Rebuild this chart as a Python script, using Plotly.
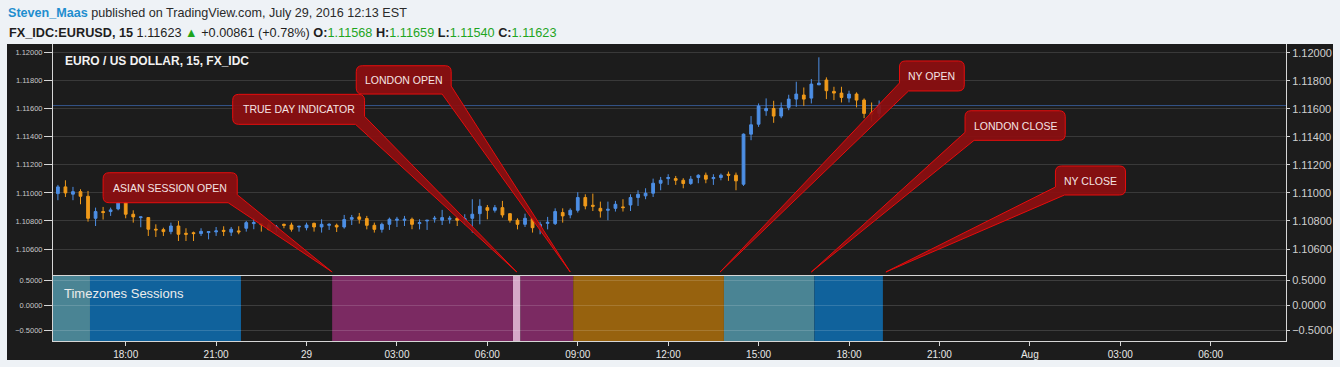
import plotly.graph_objects as go

# ---------------- data ----------------
bar_index = list(range(110))

open_ = [1.10995, 1.11043, 1.10991, 1.11009, 1.10976, 1.10819, 1.10867, 1.10867, 1.10886, 1.10929,
         1.10848, 1.10824, 1.10824, 1.10741, 1.10738, 1.10724, 1.10764, 1.10712, 1.10716, 1.10710,
         1.10717, 1.10722, 1.10733, 1.10720, 1.10729, 1.10748, 1.10781, 1.10781, 1.10771, 1.10748,
         1.10776, 1.10771, 1.10757, 1.10752, 1.10783, 1.10757, 1.10769, 1.10769, 1.10757, 1.10812,
         1.10829, 1.10817, 1.10769, 1.10740, 1.10776, 1.10805, 1.10805, 1.10812, 1.10781, 1.10800,
         1.10814, 1.10805, 1.10812, 1.10819, 1.10800, 1.10819, 1.10852, 1.10895, 1.10876, 1.10895,
         1.10852, 1.10805, 1.10776, 1.10819, 1.10757, 1.10783, 1.10781, 1.10860, 1.10843, 1.10876,
         1.10967, 1.10912, 1.10890, 1.10876, 1.10890, 1.10900, 1.10914, 1.10967, 1.10979, 1.10998,
         1.11069, 1.11102, 1.11102, 1.11090, 1.11067, 1.11110, 1.11126, 1.11102, 1.11110, 1.11133,
         1.11126, 1.11062, 1.11419, 1.11490, 1.11586, 1.11602, 1.11548, 1.11610, 1.11669, 1.11698,
         1.11676, 1.11771, 1.11805, 1.11724, 1.11712, 1.11676, 1.11705, 1.11662, 1.11571, 1.11568]

high = [1.11057, 1.11090, 1.11043, 1.11026, 1.11014, 1.10895, 1.10900, 1.10895, 1.10938, 1.10938,
        1.10876, 1.10831, 1.10826, 1.10776, 1.10752, 1.10788, 1.10800, 1.10748, 1.10724, 1.10748,
        1.10726, 1.10757, 1.10762, 1.10757, 1.10762, 1.10800, 1.10824, 1.10783, 1.10788, 1.10771,
        1.10781, 1.10788, 1.10764, 1.10788, 1.10788, 1.10812, 1.10783, 1.10781, 1.10843, 1.10843,
        1.10857, 1.10836, 1.10788, 1.10788, 1.10824, 1.10829, 1.10836, 1.10824, 1.10812, 1.10807,
        1.10836, 1.10879, 1.10836, 1.10829, 1.10848, 1.10955, 1.10955, 1.10914, 1.10914, 1.10943,
        1.10854, 1.10819, 1.10852, 1.10821, 1.10795, 1.10829, 1.10890, 1.10890, 1.10890, 1.11005,
        1.10990, 1.10995, 1.10938, 1.10938, 1.10943, 1.10955, 1.10990, 1.11019, 1.11033, 1.11102,
        1.11114, 1.11133, 1.11121, 1.11105, 1.11121, 1.11133, 1.11145, 1.11133, 1.11138, 1.11152,
        1.11145, 1.11424, 1.11548, 1.11638, 1.11674, 1.11657, 1.11645, 1.11700, 1.11793, 1.11752,
        1.11812, 1.11967, 1.11824, 1.11757, 1.11757, 1.11729, 1.11717, 1.11674, 1.11645, 1.11659]

low = [1.10948, 1.10971, 1.10948, 1.10919, 1.10795, 1.10764, 1.10810, 1.10836, 1.10876, 1.10819,
       1.10788, 1.10755, 1.10693, 1.10686, 1.10693, 1.10705, 1.10657, 1.10657, 1.10657, 1.10693,
       1.10669, 1.10693, 1.10693, 1.10693, 1.10705, 1.10724, 1.10741, 1.10724, 1.10733, 1.10717,
       1.10748, 1.10724, 1.10724, 1.10733, 1.10724, 1.10717, 1.10736, 1.10721, 1.10745, 1.10771,
       1.10781, 1.10740, 1.10717, 1.10717, 1.10736, 1.10757, 1.10764, 1.10741, 1.10740, 1.10736,
       1.10788, 1.10771, 1.10781, 1.10764, 1.10776, 1.10717, 1.10776, 1.10812, 1.10860, 1.10824,
       1.10788, 1.10740, 1.10757, 1.10717, 1.10705, 1.10740, 1.10771, 1.10788, 1.10819, 1.10860,
       1.10883, 1.10871, 1.10824, 1.10805, 1.10867, 1.10867, 1.10871, 1.10907, 1.10955, 1.10971,
       1.11019, 1.11057, 1.11057, 1.11033, 1.11057, 1.11069, 1.11069, 1.11057, 1.11090, 1.11086,
       1.11019, 1.11050, 1.11376, 1.11471, 1.11550, 1.11500, 1.11533, 1.11590, 1.11614, 1.11621,
       1.11638, 1.11769, 1.11669, 1.11662, 1.11645, 1.11645, 1.11610, 1.11533, 1.11510, 1.11540]

close = [1.11043, 1.11000, 1.11009, 1.10976, 1.10819, 1.10867, 1.10860, 1.10879, 1.10929, 1.10848,
         1.10829, 1.10829, 1.10741, 1.10736, 1.10724, 1.10764, 1.10705, 1.10705, 1.10710, 1.10726,
         1.10724, 1.10729, 1.10726, 1.10741, 1.10722, 1.10788, 1.10788, 1.10774, 1.10741, 1.10757,
         1.10769, 1.10741, 1.10762, 1.10771, 1.10757, 1.10776, 1.10776, 1.10757, 1.10810, 1.10824,
         1.10812, 1.10769, 1.10740, 1.10776, 1.10812, 1.10812, 1.10812, 1.10776, 1.10788, 1.10805,
         1.10819, 1.10824, 1.10819, 1.10805, 1.10817, 1.10848, 1.10905, 1.10876, 1.10895, 1.10843,
         1.10805, 1.10776, 1.10819, 1.10752, 1.10776, 1.10790, 1.10867, 1.10836, 1.10876, 1.10967,
         1.10907, 1.10905, 1.10871, 1.10883, 1.10919, 1.10895, 1.10967, 1.10990, 1.10998, 1.11069,
         1.11090, 1.11110, 1.11090, 1.11067, 1.11098, 1.11126, 1.11098, 1.11110, 1.11126, 1.11126,
         1.11086, 1.11419, 1.11486, 1.11619, 1.11602, 1.11548, 1.11605, 1.11669, 1.11705, 1.11669,
         1.11776, 1.11783, 1.11729, 1.11712, 1.11681, 1.11705, 1.11662, 1.11567, 1.11562, 1.11623]

time_tick_index = [9, 21, 33, 45, 57, 69, 81, 93, 105, 117, 129, 141, 153]
time_tick_labels = ["18:00", "21:00", "29", "03:00", "06:00", "09:00", "12:00",
                    "15:00", "18:00", "21:00", "Aug", "03:00", "06:00"]

price_ticks = [1.106, 1.108, 1.110, 1.112, 1.114, 1.116, 1.118, 1.120]
session_ticks = [-0.5, 0.0, 0.5]

session_start = [-0.7, 4.26, 36.4, 60.4, 61.4, 68.4, 88.4, 100.4]
session_end = [4.26, 24.3, 60.4, 61.4, 68.4, 88.4, 100.4, 109.5]
session_color = ["#4a8494", "#10629c", "#7b2a62", "#d6a9c8", "#7b2a62", "#97620e", "#4a8494", "#10629c"]

callout_text = ["ASIAN SESSION OPEN", "TRUE DAY INDICATOR", "LONDON OPEN",
                "NY OPEN", "LONDON CLOSE", "NY CLOSE"]
callout_left = [6.0, 23.2, 39.6, 111.7, 120.4, 132.4]
callout_right = [23.8, 40.7, 52.2, 120.3, 133.7, 141.7]
callout_bottom = [1.10930, 1.11489, 1.11705, 1.11727, 1.11375, 1.10985]
callout_top = [1.11144, 1.11703, 1.11907, 1.11941, 1.11586, 1.11192]
callout_tip_x = [36.4, 60.9, 68.0, 87.9, 100.0, 109.9]
callout_tip_y = [1.10436, 1.10436, 1.10436, 1.10436, 1.10436, 1.10436]

# ---------------- style / layout constants ----------------
W, H = 1340, 367
ML, MR, MT, MB = 53, 54, 44, 26
PW, PH = W - ML - MR, H - MT - MB
SPLIT = 0.2212
X_RANGE = [-0.65, 163.0]
P_RANGE = [1.104124, 1.120620]
S_RANGE = [-0.714, 0.6]
BG = "#1c1c1c"
PAGE = "#eef2f6"
LINE = "#d6d6d6"
GRID = "#393939"
UP = "#4d8fe5"
DOWN = "#f09a1a"
GREEN = "#1ea51e"
FONT = "Liberation Sans"


def px_x(px):
    return (px - ML) / PW


def px_y(py):
    return (H - MB - py) / PH


fig = go.Figure()

fig.add_trace(go.Candlestick(
    x=bar_index, open=open_, high=high, low=low, close=close,
    xaxis="x2", yaxis="y",
    increasing=dict(line=dict(color=UP, width=1), fillcolor=UP),
    decreasing=dict(line=dict(color=DOWN, width=1), fillcolor=DOWN),
    whiskerwidth=0, showlegend=False, hoverinfo="skip"))

# helper traces so the right-hand axes are drawn
fig.add_trace(go.Scatter(x=[bar_index[0]], y=[close[0]], xaxis="x2", yaxis="y3",
                         mode="markers", marker=dict(opacity=0), showlegend=False, hoverinfo="skip"))
fig.add_trace(go.Scatter(x=[bar_index[0]], y=[0], xaxis="x", yaxis="y2",
                         mode="markers", marker=dict(opacity=0), showlegend=False, hoverinfo="skip"))
fig.add_trace(go.Scatter(x=[bar_index[0]], y=[0], xaxis="x", yaxis="y4",
                         mode="markers", marker=dict(opacity=0), showlegend=False, hoverinfo="skip"))

shapes = []
# dark chart background extending beyond the plot area
shapes.append(dict(type="rect", xref="paper", yref="paper",
                   x0=px_x(7), x1=px_x(1333), y0=px_y(360), y1=1.0,
                   fillcolor=BG, line=dict(width=0), layer="below"))

# session background bands
for s0, s1, col in zip(session_start, session_end, session_color):
    shapes.append(dict(type="rect", xref="x", yref="y2 domain", x0=s0, x1=s1, y0=0, y1=1,
                       fillcolor=col, line=dict(width=0), layer="below"))

# last price line
shapes.append(dict(type="line", xref="x2 domain", yref="y", x0=0, x1=1,
                   y0=close[-1], y1=close[-1], line=dict(color="#34548a", width=1), layer="below"))

# callouts
RX = 0.8
RY = 0.00043
BX = 1.2
BY = 0.00057


def callout_path(x0, x1, yb, yt, tx, ty):
    p = [f"M{x0 + RX},{yt}", f"L{x1 - RX},{yt}", f"Q{x1},{yt} {x1},{yt - RY}"]
    if tx > x1:
        p += [f"L{x1},{yb + BY}", f"L{tx},{ty}", f"L{x1 - BX},{yb}",
              f"L{x0 + RX},{yb}", f"Q{x0},{yb} {x0},{yb + RY}"]
    else:
        p += [f"L{x1},{yb + RY}", f"Q{x1},{yb} {x1 - RX},{yb}",
              f"L{x0 + BX},{yb}", f"L{tx},{ty}", f"L{x0},{yb + BY}"]
    p += [f"L{x0},{yt - RY}", f"Q{x0},{yt} {x0 + RX},{yt}", "Z"]
    return " ".join(p)


annotations = []
for t, x0, x1, yb, yt, tx, ty in zip(callout_text, callout_left, callout_right,
                                      callout_bottom, callout_top, callout_tip_x, callout_tip_y):
    shapes.append(dict(type="path", xref="x2", yref="y", path=callout_path(x0, x1, yb, yt, tx, ty),
                       fillcolor="rgba(140,14,16,0.93)", line=dict(color="#e60d0d", width=1),
                       layer="above"))
    annotations.append(dict(x=(x0 + x1) / 2, y=(yb + yt) / 2, xref="x2", yref="y", text=t,
                            showarrow=False, font=dict(family=FONT, size=10.5, color="#f4e4e4")))

# header lines
change = 0.00861
annotations.append(dict(
    xref="paper", yref="paper", x=px_x(6), y=px_y(13.5), xanchor="left", yanchor="middle",
    showarrow=False, align="left",
    text="<span style='color:#1f8ecf'><b>Steven_Maas</b></span> published on TradingView.com, July 29, 2016 12:13 EST",
    font=dict(family=FONT, size=12.6, color="#2a2a2a")))
annotations.append(dict(
    xref="paper", yref="paper", x=px_x(7), y=px_y(32.5), xanchor="left", yanchor="middle",
    showarrow=False, align="left",
    text=(f"<b>FX_IDC:EURUSD, 15</b> {close[-1]:.5f} <span style='color:{GREEN}'>▲</span>"
          f" +{change:.5f} (+0.78%) "
          f"<b>O:</b><span style='color:{GREEN}'>{open_[-1]:.5f}</span> "
          f"<b>H:</b><span style='color:{GREEN}'>{high[-1]:.5f}</span> "
          f"<b>L:</b><span style='color:{GREEN}'>{low[-1]:.5f}</span> "
          f"<b>C:</b><span style='color:{GREEN}'>{close[-1]:.5f}</span>"),
    font=dict(family=FONT, size=12.7, color="#1e1e1e")))
# pane titles
annotations.append(dict(
    xref="paper", yref="paper", x=px_x(63), y=px_y(61), xanchor="left", yanchor="middle",
    showarrow=False, text="<b>EURO / US DOLLAR, 15, FX_IDC</b>",
    font=dict(family=FONT, size=12, color="#f2f2f2")))
annotations.append(dict(
    xref="paper", yref="paper", x=px_x(62), y=px_y(293), xanchor="left", yanchor="middle",
    showarrow=False, text="Timezones Sessions",
    font=dict(family=FONT, size=13, color="#ececec")))

axis_common = dict(showline=True, linecolor=LINE, linewidth=1, zeroline=False,
                   tickcolor=LINE, ticks="outside", automargin=False)

fig.update_layout(
    width=W, height=H,
    margin=dict(l=ML, r=MR, t=MT, b=MB, autoexpand=False),
    paper_bgcolor=PAGE, plot_bgcolor=BG,
    boxgap=0.48,
    showlegend=False,
    xaxis=dict(domain=[0, 1], anchor="y2", range=X_RANGE, tickmode="array",
               tickvals=time_tick_index, ticktext=time_tick_labels, showgrid=False, ticklen=4,
               tickfont=dict(family=FONT, size=10, color="#e8e8e8"), **axis_common),
    xaxis2=dict(domain=[0, 1], anchor="y", range=X_RANGE, showticklabels=False, showgrid=False,
                showline=True, linecolor=LINE, linewidth=1, ticks="", zeroline=False, automargin=False,
                rangeslider=dict(visible=False)),
    yaxis=dict(domain=[SPLIT, 1], anchor="x2", range=P_RANGE, tickmode="array", tickvals=price_ticks,
               tickformat=".5f", showgrid=True, gridcolor=GRID, gridwidth=1, ticklen=8,
               tickfont=dict(family=FONT, size=7.5, color="#c8c8c8"), **axis_common),
    yaxis3=dict(overlaying="y", anchor="x2", side="right", range=P_RANGE, tickmode="array",
                tickvals=price_ticks, tickformat=".5f", showgrid=False, ticklen=3,
                tickfont=dict(family=FONT, size=11, color="#cfcfcf"), **axis_common),
    yaxis2=dict(domain=[0, SPLIT], anchor="x", range=S_RANGE, tickmode="array", tickvals=session_ticks,
                tickformat=".4f", showgrid=True, gridcolor="rgba(255,255,255,0.15)", gridwidth=1, ticklen=8,
                tickfont=dict(family=FONT, size=7.5, color="#c8c8c8"), **axis_common),
    yaxis4=dict(overlaying="y2", anchor="x", side="right", range=S_RANGE, tickmode="array",
                tickvals=session_ticks, tickformat=".4f", showgrid=False, ticklen=3,
                tickfont=dict(family=FONT, size=11, color="#cfcfcf"), **axis_common),
    shapes=shapes,
    annotations=annotations,
)

fig.write_html("out.html", config={"displayModeBar": False},
               post_script="document.body.style.margin='0px';document.body.style.overflow='hidden';")
